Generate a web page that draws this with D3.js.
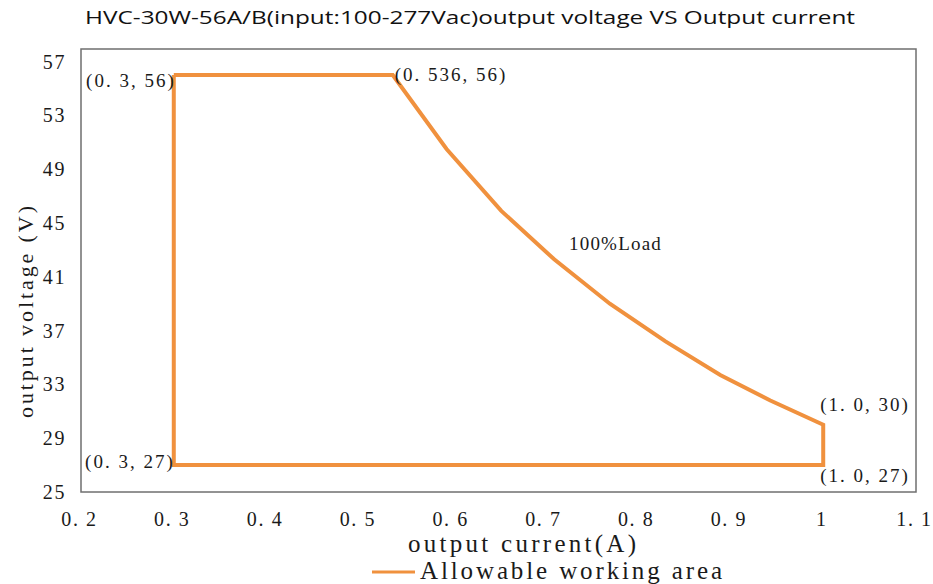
<!DOCTYPE html>
<html>
<head>
<meta charset="utf-8">
<script src="https://cdn.jsdelivr.net/npm/d3@7"></script>
<style>
  body { margin: 0; background: #fff; }
  svg { display: block; }
  .tick text { font-family: "Liberation Serif", serif; font-size: 20px; fill: #1a1a1a; letter-spacing: 1.6px; }
  .lbl { font-family: "Liberation Serif", serif; font-size: 19px; fill: #1a1a1a; letter-spacing: 2px; }
  .ttl { font-family: "Liberation Serif", serif; fill: #1a1a1a; }
</style>
</head>
<body>
<div id="chart"></div>
<script>
// outline of the allowable working area (current A, voltage V)
var areaCurrent = [0.3, 0.536, 0.594, 0.653, 0.71, 0.77, 0.83, 0.889, 0.943, 1.0, 1.0, 0.3, 0.3];
var areaVoltage = [56, 56, 50.5, 45.9, 42.3, 39, 36.2, 33.7, 31.8, 30, 27, 27, 56];
var xTicks = [0.2, 0.3, 0.4, 0.5, 0.6, 0.7, 0.8, 0.9, 1.0, 1.1];
var yTicks = [25, 29, 33, 37, 41, 45, 49, 53, 57];
var pointLabels = [
  {x: 0.3, y: 56, text: "(0. 3, 56)", anchor: "end", dx: 2, dy: 8},
  {x: 0.536, y: 56, text: "(0. 536, 56)", anchor: "start", dx: 2, dy: 2},
  {x: 1.0, y: 30, text: "(1. 0, 30)", anchor: "start", dx: -3, dy: -18},
  {x: 1.0, y: 27, text: "(1. 0, 27)", anchor: "start", dx: -3, dy: 13},
  {x: 0.3, y: 27, text: "(0. 3, 27)", anchor: "end", dx: 1, dy: -1}
];
var curveLabel = {x: 0.726, y: 43.3, text: "100%Load"};
var title = "HVC-30W-56A/B(input:100-277Vac)output voltage VS Output current";
var legendText = "Allowable working area";
var orange = "#f0913e";

var W = 933, H = 584;
var svg = d3.select("#chart").append("svg").attr("width", W).attr("height", H);

var x = d3.scaleLinear().domain([0.2, 1.1]).range([81, 916]);
var y = d3.scaleLinear().domain([25, 57]).range([492, 61.6]);

// frame
svg.append("rect").attr("x", x(0.2)).attr("y", 49)
  .attr("width", x(1.1) - x(0.2)).attr("height", y(25) - 49)
  .attr("fill", "none").attr("stroke", "#6f6f6f").attr("stroke-width", 1.5);

var fmtX = function(d) { return d === 1 ? "1" : d.toFixed(1).replace(".", ". "); };
svg.append("g").attr("transform", `translate(0,${y(25)})`)
  .call(d3.axisBottom(x).tickValues(xTicks).tickFormat(fmtX).tickSize(0).tickPadding(20))
  .call(g => g.select(".domain").remove())
  .call(g => g.selectAll(".tick text").attr("dx", -2));
svg.append("g").attr("transform", `translate(${x(0.2)},0)`)
  .call(d3.axisLeft(y).tickValues(yTicks).tickFormat(d3.format("d")).tickSize(0).tickPadding(15))
  .call(g => g.select(".domain").remove());

var line = d3.line().x(function(d){return x(d[0]);}).y(function(d){return y(d[1]);});
var pts = areaCurrent.map(function(c, i) { return [c, areaVoltage[i]]; });
svg.append("path").datum(pts).attr("d", line)
  .attr("fill", "none").attr("stroke", orange).attr("stroke-width", 4)
  .attr("stroke-linejoin", "miter");

svg.selectAll(".lbl").data(pointLabels).enter().append("text").attr("class", "lbl")
  .attr("x", function(d){return x(d.x) + d.dx;})
  .attr("y", function(d){return y(d.y) + d.dy;})
  .attr("text-anchor", function(d){return d.anchor;})
  .attr("dominant-baseline", "middle")
  .text(function(d){return d.text;});
svg.append("text").attr("class", "lbl")
  .attr("x", x(curveLabel.x)).attr("y", y(curveLabel.y))
  .attr("dominant-baseline", "middle").style("letter-spacing", "1.2px")
  .text(curveLabel.text);

// titles
svg.append("text").attr("x", 470).attr("y", 24).attr("text-anchor", "middle")
  .attr("font-family", "'Open Sans', sans-serif").attr("font-size", 19).attr("fill", "#111")
  .attr("textLength", 770).attr("lengthAdjust", "spacingAndGlyphs")
  .text(title);
svg.append("text").attr("class", "ttl").attr("x", 408).attr("y", 552)
  .attr("font-size", 25).attr("textLength", 228).attr("lengthAdjust", "spacing")
  .text("output current(A)");
svg.append("text").attr("class", "ttl").attr("transform", "translate(33,418) rotate(-90)")
  .attr("font-size", 22).attr("textLength", 212).attr("lengthAdjust", "spacing")
  .text("output voltage (V)");

// legend
svg.append("line").attr("x1", 372).attr("x2", 415).attr("y1", 572).attr("y2", 572)
  .attr("stroke", orange).attr("stroke-width", 3);
svg.append("text").attr("class", "ttl").attr("x", 420).attr("y", 579)
  .attr("font-size", 25).attr("textLength", 302).attr("lengthAdjust", "spacing")
  .text(legendText);
</script>
</body>
</html>
